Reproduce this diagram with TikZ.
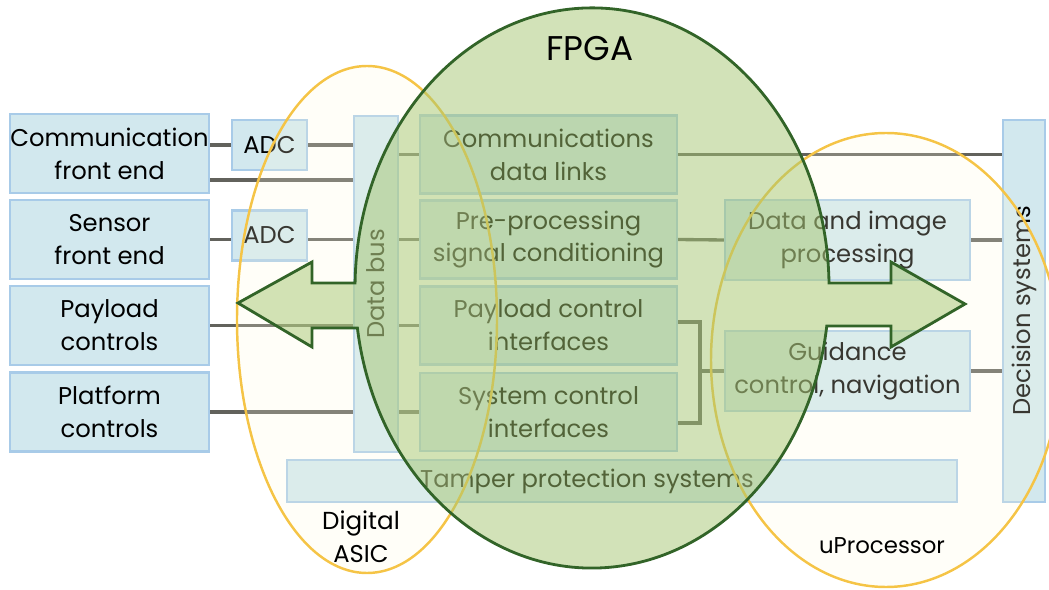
\documentclass[tikz,border=0pt]{standalone}
\usepackage{fontspec}
\setmainfont{Poppins}
\usetikzlibrary{positioning, calc}
\definecolor{pale_blue}{RGB}{210, 232, 238}
\definecolor{frame_blue}{RGB}{168, 203, 232}
\definecolor{wire_gray}{RGB}{98, 98, 92}
\definecolor{fpga_green}{RGB}{165, 198, 113}
\definecolor{forest}{RGB}{50, 100, 40}
\definecolor{asic_gold}{RGB}{245, 196, 70}
\definecolor{cream}{RGB}{255, 252, 225}

\begin{document}
\begin{tikzpicture}[
    x=0.02cm, y=0.02cm,
    font=\fontsize{13.8}{18.7}\selectfont,
    block/.style={
        rectangle,
        draw=frame_blue,
        fill=pale_blue,
        line width=1.25pt,
        inner sep=0pt,
        align=center
    },
    frontend/.style={block, minimum width=3.98cm, minimum height=1.58cm},
    converter/.style={block, minimum width=1.5cm, minimum height=1cm},
    stage/.style={block, minimum width=5.14cm, minimum height=1.56cm},
    processor/.style={block, minimum width=4.9cm, minimum height=1.6cm},
    wire/.style={draw=wire_gray, line width=1.9pt},
    chip/.style={
        draw=asic_gold,
        line width=1.4pt,
        fill=cream,
        fill opacity=0.22
    },
    fpga/.style={
        draw=forest,
        line width=1.6pt,
        fill=fpga_green,
        fill opacity=0.5
    }
]
\useasboundingbox (0,0) rectangle (1049,589);

% Front end nodes
\node[frontend] (comm) at (109.5,435.5) {Communication\\front end};
\node[frontend] (sensor) at (109.5,349.5) {Sensor\\front end};
\node[frontend] (payload) at (109.5,263.5) {Payload\\controls};
\node[frontend] (platform) at (109.5,177) {Platform\\controls};

\node[converter] (adcA) at (269.5,444) {ADC};
\node[converter] (adcB) at (269.5,353.5) {ADC};

% Bus and FPGA stages
\node[block, minimum width=0.88cm, minimum height=6.72cm] (bus) at (376,305) {\rotatebox{90}{Data bus}};

\node[stage] (links) at (548.5,434.5) {Communications\\data links};
\node[stage] (precond) at (548.5,349.5) {Pre-processing\\signal conditioning};
\node[stage] (payctl) at (548.5,263.5) {Payload control\\interfaces};
\node[stage] (sysctl) at (548.5,177) {System control\\interfaces};

% Processor nodes
\node[processor] (image) at (847.5,349) {Data and image\\processing};
\node[processor] (guide) at (847.5,218) {Guidance\\control, navigation};
\node[block, minimum width=0.84cm, minimum height=7.64cm] (decide) at (1024,278) {\rotatebox{90}{Decision systems}};

\node[block, minimum width=13.4cm, minimum height=0.84cm,
    label={[xshift=-0.7cm]center:Tamper protection systems}] (tamper) at (622,108) {};

\coordinate (fork) at ([xshift=0.44cm]payctl.east |- guide.west);

% Connecting wires
\draw[wire] (adcA.west -| comm.east) -- (adcA.west);
\draw[wire] (adcA.east) -- (adcA.east -| bus.west);
\draw[wire] ([yshift=-0.53cm]comm.east) -- ([yshift=-0.53cm]comm.east -| bus.west);
\draw[wire] (sensor.east) -- (sensor.east -| adcB.west);
\draw[wire] (sensor.east -| adcB.east) -- (sensor.east -| bus.west);
\draw[wire] (payload.east) -- (payload.east -| bus.west);
\draw[wire] (platform.east) -- (platform.east -| bus.west);

\draw[wire] (links.west -| bus.east) -- (links.west);
\draw[wire] (precond.west -| bus.east) -- (precond.west);
\draw[wire] (payctl.west -| bus.east) -- (payctl.west);
\draw[wire] (sysctl.west -| bus.east) -- (sysctl.west);

\draw[wire] (links.east) -- (links.east -| decide.west);
\draw[wire] (precond.east) -- (image.west);
\draw[wire] (image.east) -- (image.east -| decide.west);
\draw[wire] ([yshift=0.07cm]payctl.east) -| (fork) |- ([yshift=-0.22cm]sysctl.east);
\draw[wire] (fork) -- (guide.west);
\draw[wire] (guide.east) -- (guide.east -| decide.west);

% Chip regions
\draw[chip] (367,269.5) ellipse [x radius=130, y radius=253.5];
\draw[chip] (886,229) ellipse [x radius=175, y radius=227];

\draw[fpga] (355,306) -- (312,306) -- (312,327) -- (238,286) -- (312,242) -- (312,261) -- (357.4,261)
    arc[start angle=188.2, end angle=352.2, x radius=237, y radius=280]
    -- (891,263) -- (891,242) -- (965,285) -- (891,327) -- (891,306) -- (829,306)
    arc[start angle=1, end angle=179, x radius=237, y radius=280] -- cycle;

% Region labels
\node (fpganame) at (590,540) {\fontsize{19.5}{22}\selectfont FPGA};
\node[align=center] (asicname) at (361,52) {\fontsize{14}{17}\selectfont Digital\\ASIC};
\node (cpuname) at (882,43) {\fontsize{13}{16}\selectfont uProcessor};

\end{tikzpicture}
\end{document}
